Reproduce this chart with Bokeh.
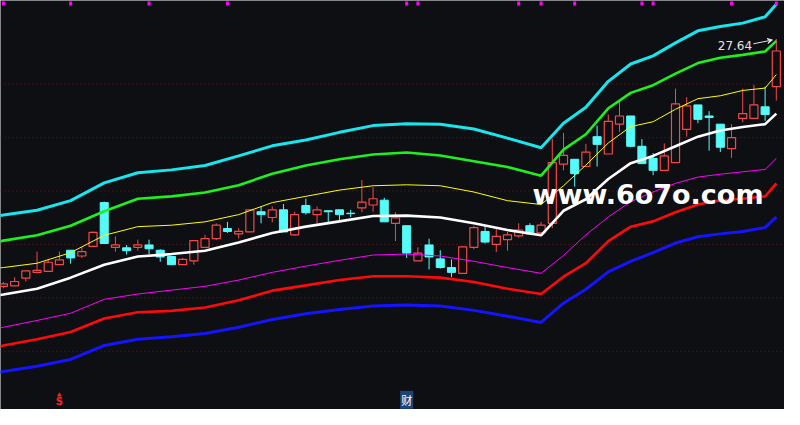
from bokeh.plotting import figure
from bokeh.models import Range1d, Span, Arrow, VeeHead
from bokeh.core.properties import value
from bokeh.embed import file_html
from bokeh.resources import INLINE

# ---------------- data ----------------
OPEN = [22.50, 22.51, 22.67, 22.79, 22.81, 22.95, 23.25, 23.13, 23.33, 24.24,
        23.31, 23.30, 23.31, 23.36, 23.25, 23.12, 22.95, 23.03, 23.31, 23.49,
        23.70, 23.59, 23.63, 24.05, 23.93, 24.09, 23.57, 24.18, 23.99, 24.07,
        24.09, 24.02, 24.13, 24.19, 24.29, 23.81, 23.76, 23.03, 23.36, 23.07,
        22.89, 22.77, 23.31, 23.64, 23.37, 23.47, 23.55, 23.76, 23.61, 23.81,
        25.04, 25.14, 24.99, 25.61, 25.25, 25.87, 26.04, 25.41, 25.16, 24.91,
        25.07, 25.76, 26.27, 26.04, 25.87, 25.36, 25.99, 25.99, 26.23, 26.65]
HIGH = [22.59, 22.69, 22.82, 23.22, 23.07, 23.22, 23.25, 23.31, 23.64, 24.26,
        23.54, 23.36, 23.47, 23.47, 23.27, 23.12, 23.09, 23.45, 23.57, 23.81,
        23.84, 23.71, 24.09, 24.16, 24.16, 24.21, 24.05, 24.32, 24.16, 24.07,
        24.09, 24.09, 24.71, 24.56, 24.34, 24.04, 23.76, 23.31, 23.49, 23.25,
        23.06, 23.34, 23.76, 23.75, 23.71, 23.63, 23.81, 23.81, 23.84, 25.57,
        25.69, 25.14, 25.46, 25.84, 26.07, 26.36, 26.04, 25.56, 25.27, 25.47,
        26.61, 26.43, 26.27, 26.14, 25.87, 25.87, 26.61, 26.69, 26.65, 27.64]
LOW = [22.46, 22.51, 22.60, 22.77, 22.81, 22.95, 22.97, 23.09, 23.33, 23.39,
       23.22, 23.16, 23.24, 23.17, 23.01, 22.95, 22.95, 22.95, 23.31, 23.46,
       23.61, 23.49, 23.63, 23.81, 23.83, 23.63, 23.55, 23.99, 23.81, 23.83,
       23.87, 23.94, 24.04, 24.05, 23.84, 23.44, 23.09, 23.03, 22.85, 22.87,
       22.69, 22.77, 23.27, 23.39, 23.21, 23.24, 23.51, 23.59, 23.61, 23.71,
       24.91, 24.57, 24.99, 24.99, 25.25, 25.71, 25.39, 25.05, 24.81, 24.91,
       25.07, 25.61, 25.89, 25.32, 25.29, 25.17, 25.91, 25.99, 25.94, 26.36]
CLOSE = [22.55, 22.60, 22.82, 22.83, 23.00, 23.05, 23.09, 23.22, 23.62, 23.39,
         23.36, 23.24, 23.36, 23.28, 23.11, 22.95, 23.06, 23.45, 23.49, 23.77,
         23.64, 23.64, 24.09, 23.99, 24.09, 23.63, 23.99, 24.03, 24.09, 24.05,
         23.99, 24.01, 24.25, 24.32, 23.84, 23.92, 23.19, 23.19, 23.11, 22.89,
         22.79, 23.32, 23.72, 23.42, 23.54, 23.57, 23.67, 23.59, 23.77, 25.07,
         25.22, 24.84, 25.29, 25.45, 25.93, 26.04, 25.41, 25.05, 24.91, 25.21,
         26.29, 26.25, 25.97, 26.01, 25.39, 25.59, 26.09, 26.27, 26.07, 27.39]

# band lines, sampled at these bar indices
LINE_IDX = [-1, 0, 3, 6, 9, 12, 15, 18, 21, 24, 27, 30, 33, 36, 39, 42, 45, 48,
            50, 52, 54, 56, 58, 60, 62, 64, 66, 68, 69]
BAND_CYAN = [23.95, 23.98, 24.08, 24.28, 24.65, 24.86, 24.92, 25.01, 25.21, 25.42,
             25.54, 25.70, 25.84, 25.88, 25.87, 25.77, 25.58, 25.38, 25.89, 26.22,
             26.76, 27.12, 27.29, 27.56, 27.81, 27.90, 27.97, 28.10, 28.36]
BAND_GREEN = [23.40, 23.45, 23.56, 23.76, 24.06, 24.32, 24.37, 24.45, 24.60, 24.84,
              25.01, 25.14, 25.24, 25.28, 25.22, 25.10, 24.98, 24.80, 25.34, 25.66,
              26.20, 26.52, 26.68, 26.92, 27.14, 27.25, 27.31, 27.38, 27.60]
BAND_YELLOW = [22.87, 22.89, 22.98, 23.20, 23.56, 23.74, 23.77, 23.84, 23.99, 24.24,
               24.37, 24.50, 24.59, 24.61, 24.59, 24.46, 24.28, 24.20, 24.59, 25.02,
               25.48, 25.82, 25.92, 26.18, 26.40, 26.46, 26.57, 26.62, 26.90]
BAND_WHITE = [22.30, 22.33, 22.45, 22.68, 22.95, 23.12, 23.17, 23.24, 23.41, 23.61,
              23.74, 23.85, 23.96, 23.97, 23.93, 23.81, 23.67, 23.56, 24.07, 24.31,
              24.73, 25.06, 25.21, 25.41, 25.61, 25.74, 25.81, 25.87, 26.09]
BAND_MAGENTA = [21.59, 21.65, 21.79, 21.94, 22.23, 22.34, 22.42, 22.50, 22.63, 22.79,
                22.92, 23.04, 23.15, 23.17, 23.13, 23.02, 22.89, 22.77, 23.14, 23.57,
                23.94, 24.26, 24.46, 24.64, 24.77, 24.83, 24.88, 24.93, 25.16]
BAND_RED = [21.20, 21.27, 21.40, 21.55, 21.83, 21.96, 21.99, 22.06, 22.21, 22.41,
            22.52, 22.63, 22.71, 22.71, 22.68, 22.59, 22.45, 22.34, 22.70, 22.98,
            23.44, 23.74, 23.85, 24.04, 24.20, 24.29, 24.32, 24.37, 24.64]
BAND_BLUE = [20.68, 20.73, 20.84, 20.98, 21.27, 21.40, 21.45, 21.52, 21.65, 21.81,
             21.93, 22.02, 22.09, 22.11, 22.09, 22.00, 21.88, 21.75, 22.15, 22.44,
             22.80, 23.02, 23.20, 23.40, 23.53, 23.59, 23.64, 23.72, 23.94]

GRID_LEVELS = [26.70, 25.59, 24.48, 23.37, 22.26, 21.15]
TOP_MARK_IDX = [0, 6, 13, 20, 36, 37, 46, 48, 51, 57, 58, 65, 69]
TOP_MARK_LEVEL = 28.38
SIGNAL_S_IDX = 5
SIGNAL_CAI_IDX = 36
SIGNAL_LEVEL = 20.14
LAST_HIGH_LABEL = "27.64"
WATERMARK = "www.6o7o.com"

# ---------------- style ----------------
BG = "#0e0f13"
UP = "#f44848"
DOWN = "#54fcfc"

p = figure(width=784, height=409, output_backend="svg", toolbar_location=None,
           x_range=Range1d(-0.26, 69.73), y_range=Range1d(19.94, 28.44),
           x_axis_type=None, y_axis_type=None, min_border=0,
           background_fill_color=BG, border_fill_color=BG, outline_line_color=None)
p.xgrid.visible = False
p.ygrid.visible = False

for lv in GRID_LEVELS:
    p.add_layout(Span(location=lv, dimension="width", line_color="#6a1818",
                      line_dash="1 3", line_width=1, level="underlay"))

n = len(OPEN)
idx = list(range(n))
up_i = [i for i in idx if CLOSE[i] >= OPEN[i]]
dn_i = [i for i in idx if CLOSE[i] < OPEN[i]]

# wicks
p.segment(x0=up_i, x1=up_i, y0=[LOW[i] for i in up_i], y1=[HIGH[i] for i in up_i],
          line_color=UP, line_width=1)
p.segment(x0=dn_i, x1=dn_i, y0=[LOW[i] for i in dn_i], y1=[HIGH[i] for i in dn_i],
          line_color=DOWN, line_width=1)
# bodies
p.vbar(x=up_i, width=0.72, top=[CLOSE[i] for i in up_i], bottom=[OPEN[i] for i in up_i],
       fill_color=BG, line_color=UP, line_width=1.2)
p.vbar(x=dn_i, width=0.72, top=[OPEN[i] for i in dn_i], bottom=[CLOSE[i] for i in dn_i],
       fill_color=DOWN, line_color=DOWN, line_width=1)

# bands
p.line(LINE_IDX, BAND_BLUE, line_color="#1414ff", line_width=3)
p.line(LINE_IDX, BAND_RED, line_color="#ff0a0a", line_width=2.6)
p.line(LINE_IDX, BAND_MAGENTA, line_color="#ff00ff", line_width=1)
p.line(LINE_IDX, BAND_WHITE, line_color="#ffffff", line_width=2.6)
p.line(LINE_IDX, BAND_YELLOW, line_color="#ffff00", line_width=1)
p.line(LINE_IDX, BAND_GREEN, line_color="#1ef01e", line_width=2.6)
p.line(LINE_IDX, BAND_CYAN, line_color="#18e6ee", line_width=3)

# top markers
p.rect(x=TOP_MARK_IDX, y=[TOP_MARK_LEVEL] * len(TOP_MARK_IDX), width=3, height=4,
       width_units="screen", height_units="screen", fill_color="#ff00ff", line_color=None)

# bottom signals
p.scatter(x=[SIGNAL_S_IDX], y=[SIGNAL_LEVEL + 0.1], marker="triangle", size=5,
          fill_color="#ff2020", line_color=None)
p.text(x=[SIGNAL_S_IDX], y=[SIGNAL_LEVEL - 0.04], text=["S"], text_color="#ff2020",
       text_font=value("DejaVu Sans"), text_font_style="bold", text_font_size="10px",
       text_align="center", text_baseline="middle")
p.text(x=[SIGNAL_CAI_IDX], y=[SIGNAL_LEVEL], text=["财"], text_color="#ffffff",
       text_font=value("Noto Sans CJK SC"), text_font_size="11px",
       text_align="center", text_baseline="middle",
       background_fill_color="#1c4478", padding=1)

# last high label
last = n - 1
p.text(x=[last - 2.16], y=[HIGH[last] - 0.13], text=[LAST_HIGH_LABEL], text_color="#e4e4e4",
       text_font=value("DejaVu Sans"), text_font_size="12px",
       text_align="right", text_baseline="middle")
p.add_layout(Arrow(end=VeeHead(size=5, line_color="#e4e4e4", fill_color="#e4e4e4", line_width=1),
                   x_start=last - 2.05, y_start=HIGH[last] - 0.10,
                   x_end=last - 0.35, y_end=HIGH[last] - 0.02,
                   line_color="#e4e4e4", line_width=1))

# watermark
p.text(x=[47.24], y=[24.40], text=[WATERMARK], text_color="#ffffff",
       text_font=value("DejaVu Sans"), text_font_style="bold", text_font_size="27px",
       text_align="left", text_baseline="alphabetic")

open("out.html", "w").write(file_html(p, INLINE))
